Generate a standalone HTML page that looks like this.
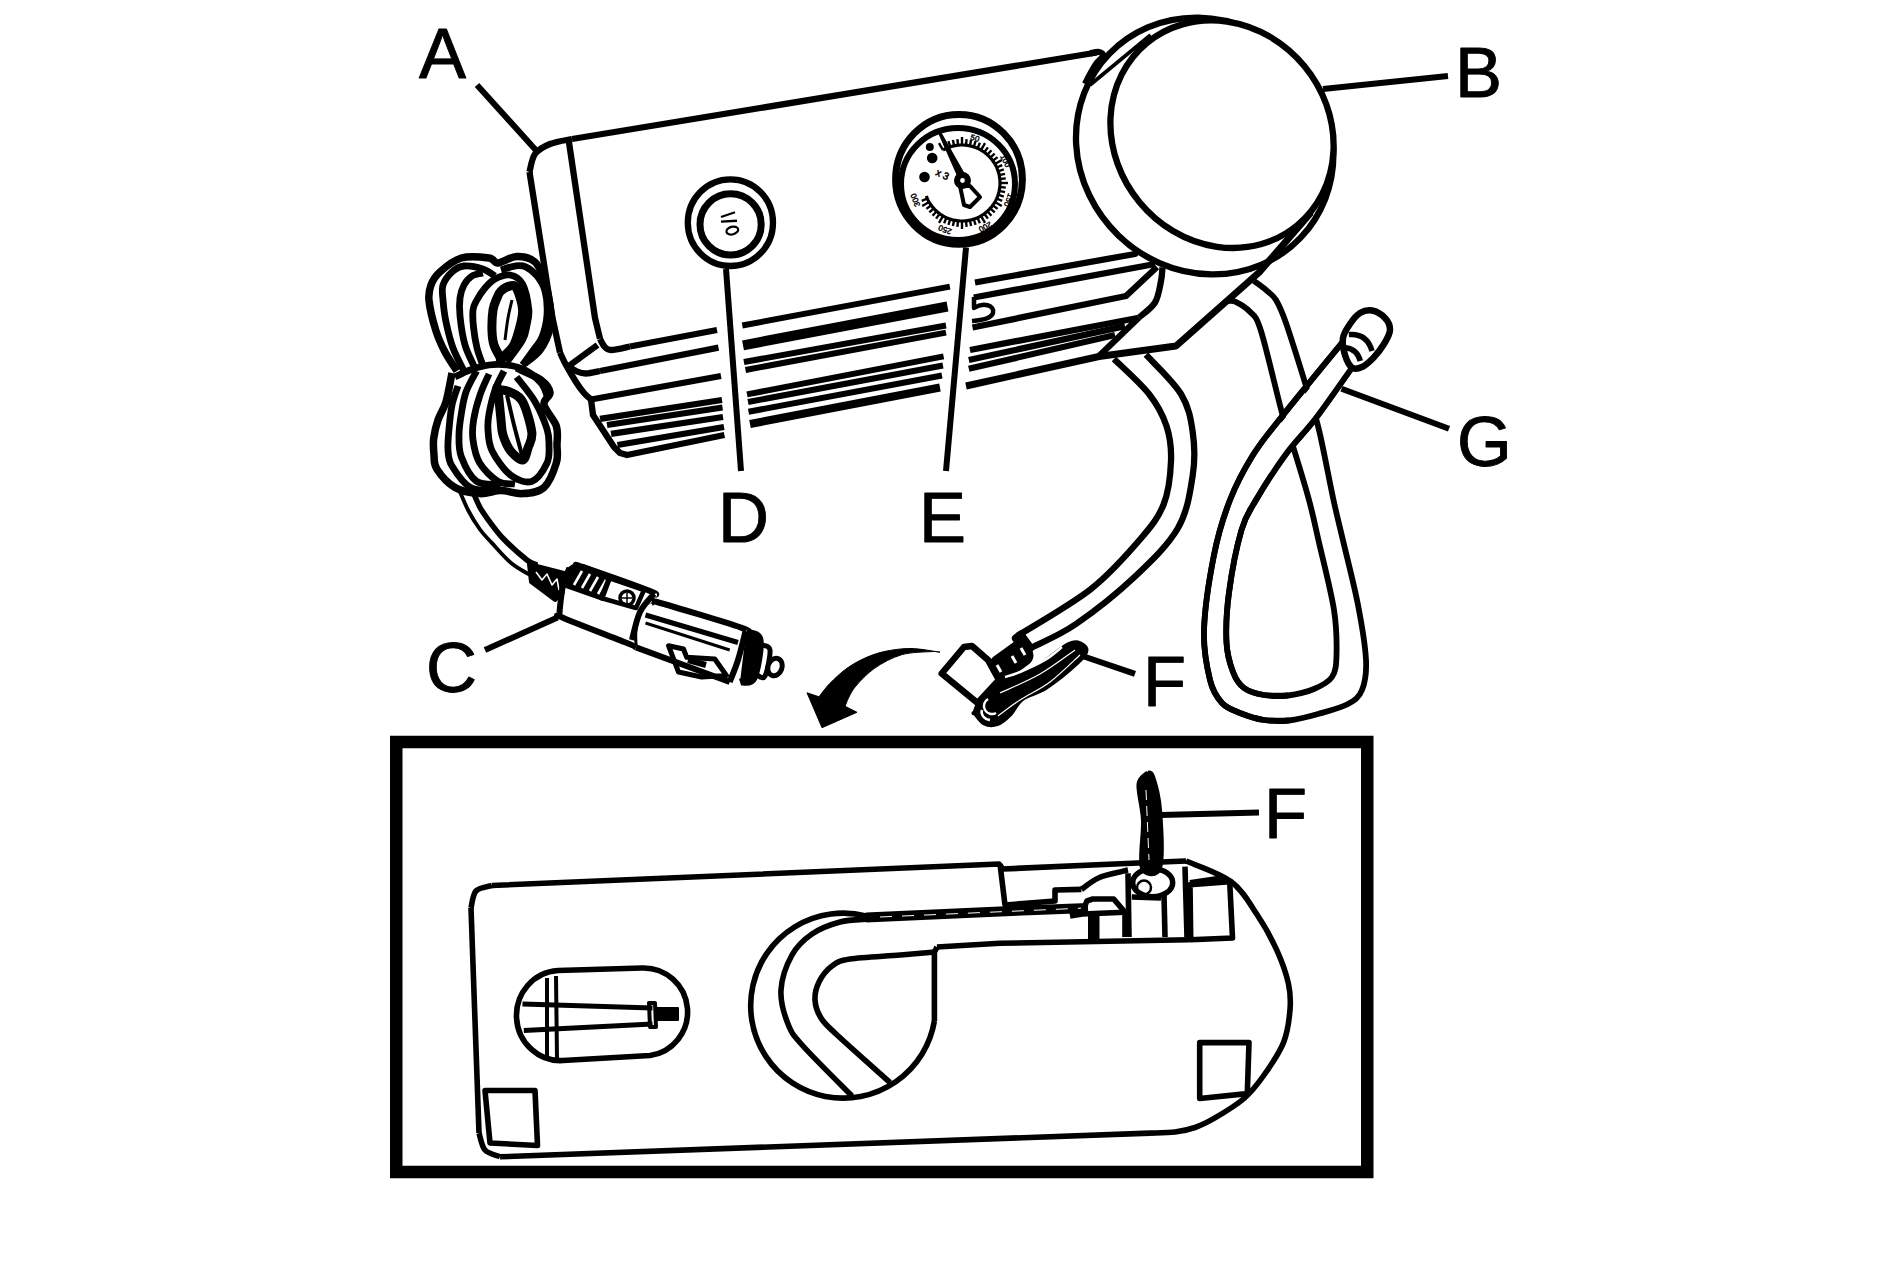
<!DOCTYPE html>
<html><head><meta charset="utf-8"><style>
html,body{margin:0;padding:0;background:#fff;width:1893px;height:1272px;overflow:hidden}
svg{display:block}
text{font-family:"Liberation Sans",sans-serif}
</style></head><body>
<svg width="1893" height="1272" viewBox="0 0 1893 1272" stroke="#000" stroke-linecap="butt" stroke-linejoin="round" fill="none">
<text x="419" y="77.5" font-size="70.5" stroke="#000" stroke-width="0.9" fill="#000">A</text>
<text x="1455" y="97" font-size="70.5" stroke="#000" stroke-width="0.9" fill="#000">B</text>
<text x="426" y="692" font-size="70.5" stroke="#000" stroke-width="0.9" fill="#000">C</text>
<text x="718" y="542" font-size="70.5" stroke="#000" stroke-width="0.9" fill="#000">D</text>
<text x="919" y="542" font-size="70.5" stroke="#000" stroke-width="0.9" fill="#000">E</text>
<text x="1143" y="706" font-size="70.5" stroke="#000" stroke-width="0.9" fill="#000">F</text>
<text x="1457" y="466" font-size="70.5" stroke="#000" stroke-width="0.9" fill="#000">G</text>
<text x="1264" y="838" font-size="70.5" stroke="#000" stroke-width="0.9" fill="#000">F</text>
<path d="M477,85 L538,152.5" stroke-width="6" fill="none" stroke-linecap="butt"/>
<path d="M1323,89 L1448,76" stroke-width="6" fill="none" stroke-linecap="butt"/>
<path d="M485,650 L557.5,617.5" stroke-width="6" fill="none" stroke-linecap="butt"/>
<path d="M726,269 L741,471" stroke-width="6" fill="none" stroke-linecap="butt"/>
<path d="M966,247.5 L946,471" stroke-width="6" fill="none" stroke-linecap="butt"/>
<path d="M1082.5,656 L1135,673.8" stroke-width="6" fill="none" stroke-linecap="butt"/>
<path d="M1341.5,388.8 L1449,428.8" stroke-width="6" fill="none" stroke-linecap="butt"/>
<path d="M1161,815 L1259,812.6" stroke-width="6" fill="none" stroke-linecap="butt"/>
<path d="M1097,52.5 L572,139" stroke-width="6.3" fill="none"/>
<path d="M572,139 C568.3,139.8 556.2,141.5 550,144 C543.8,146.5 538.4,149.3 535,154 C531.6,158.7 530.4,169 529.5,172" stroke-width="6.3" fill="none"/>
<path d="M529.5,172 L552.5,318 560,352.5" stroke-width="6.3" fill="none"/>
<path d="M560,352.5 C561,354.6 563.3,360.1 566,365 C568.7,369.9 573,377.3 576,382 C579,386.7 581.5,390.1 584,393 C586.5,395.9 589.8,398.4 591,399.5" stroke-width="6.3" fill="none"/>
<path d="M591,399.5 L593,415 614,447 620,453 627,455 724.4,435" stroke-width="6.3" fill="none"/>
<path d="M568.8,141 L595,318 600,338.8" stroke-width="6.3" fill="none"/>
<path d="M600,338.8 C600.7,340 602.2,344.1 604,346 C605.8,347.9 606.7,349.9 611,350 C615.3,350.1 626.8,347.1 630,346.5" stroke-width="6.3" fill="none"/>
<path d="M630,346.5 L717,330" stroke-width="6.3" fill="none"/>
<path d="M597.5,345 L568.8,366" stroke-width="6.3" fill="none"/>
<path d="M568.8,366 C570,366.8 573.1,369.8 576,371 C578.9,372.2 582,373.5 586,373.5 C590,373.5 597.7,371.4 600,371" stroke-width="6.3" fill="none"/>
<path d="M600,371 L718.5,347.7" stroke-width="6.3" fill="none"/>
<path d="M591,399.5 L721,376" stroke-width="6.3" fill="none"/>
<path d="M600,418.8 L722,400" stroke-width="6.3" fill="none"/>
<path d="M607,425 L722.5,407.5" stroke-width="6.3" fill="none"/>
<path d="M611,433.8 L723,417" stroke-width="6.3" fill="none"/>
<path d="M617.5,445 L724,427" stroke-width="6.3" fill="none"/>
<path d="M742.3,325.5 L949.9,286.6" stroke-width="6" fill="none"/>
<path d="M743,345.3 L947.5,306.5" stroke-width="10" fill="none"/>
<path d="M743.9,362 L946,325.5" stroke-width="6" fill="none"/>
<path d="M745.5,370 L946,332.6" stroke-width="6" fill="none"/>
<path d="M747,394.4 L943.6,356.4" stroke-width="6" fill="none"/>
<path d="M748,402 L943,365.5" stroke-width="6" fill="none"/>
<path d="M748.5,411.8 L942,375.5" stroke-width="6" fill="none"/>
<path d="M750,424 L940,387.5" stroke-width="8" fill="none"/>
<path d="M975,282.5 L1135,254 1139,250" stroke-width="6.3" fill="none"/>
<path d="M973.8,297.5 L1155,264" stroke-width="6.3" fill="none"/>
<path d="M972.5,327.5 L1126,296 1157,267" stroke-width="6.3" fill="none"/>
<path d="M970,350 L1137.5,318" stroke-width="6.3" fill="none"/>
<path d="M968.8,360 L1125,326.2" stroke-width="6.3" fill="none"/>
<path d="M968.8,368.8 L1115,335" stroke-width="6.3" fill="none"/>
<path d="M1162.5,267.5 C1162.2,269.8 1162.2,275.2 1161,281 C1159.8,286.8 1158.7,296.4 1155,302.5 C1151.3,308.6 1141.7,315 1139,317.5" stroke-width="6.3" fill="none"/>
<path d="M1139,317.5 L1099,356" stroke-width="6.3" fill="none"/>
<path d="M974,297 L974,308 C983,302 995,305 993,313 C991,319 981,320 972,321" stroke-width="4.5"/>
<ellipse cx="1204.7" cy="146" rx="132.7" ry="124.3" stroke-width="6.3" fill="#fff" transform="rotate(44 1204.7 146)"/>
<path d="M966,386 L1099,356.5 1176,346 1259,272.5 1311,212.5" stroke-width="7" fill="none"/>
<path d="M1090,53.5 C1091.5,53.2 1096.8,51.6 1099,52 C1101.2,52.4 1103.5,54 1103,56 C1102.5,58 1098.3,60.7 1096,64 C1093.7,67.3 1090.8,72.7 1089,76 C1087.2,79.3 1085.7,82.7 1085,84" stroke-width="6.3" fill="none"/>
<path d="M1150.6,34.9 L1090,85" stroke-width="3.8" fill="none"/>
<ellipse cx="1222" cy="134.2" rx="118.2" ry="106.9" stroke-width="6.3" fill="#fff" transform="rotate(50.5 1222 134.2)"/>
<ellipse cx="959" cy="179.3" rx="63.4" ry="64.9" stroke-width="7" fill="#fff"/>
<ellipse cx="958" cy="184" rx="57" ry="56" stroke-width="6" fill="none"/>
<path d="M943.0,150.1 L944.2,149.4 L945.3,148.8 L946.5,148.3 L947.8,147.8 L949.0,147.3 L950.3,146.9 L951.5,146.5 L952.8,146.1 L954.1,145.8 L955.4,145.6 L956.7,145.4 L958.0,145.2 L959.3,145.1 L960.7,145.0 L962.0,145.0 L963.3,145.0 L964.7,145.1 L966.0,145.2 L967.3,145.4 L968.6,145.6 L969.9,145.8 L971.2,146.1 L972.5,146.5 L973.7,146.9 L975.0,147.3 L976.2,147.8 L977.5,148.3 L978.7,148.8 L979.8,149.4 L981.0,150.1 L982.1,150.8 L983.2,151.5 L984.3,152.3 L985.4,153.1 L986.4,153.9 L987.4,154.8 L988.4,155.7 L989.3,156.6 L990.2,157.6 L991.1,158.6 L991.9,159.6 L992.7,160.7 L993.5,161.8 L994.2,162.9 L994.9,164.0 L995.6,165.2 L996.2,166.3 L996.7,167.5 L997.2,168.8 L997.7,170.0 L998.1,171.3 L998.5,172.5 L998.9,173.8 L999.2,175.1 L999.4,176.4 L999.6,177.7 L999.8,179.0 L999.9,180.3 L1000.0,181.7 L1000.0,183.0 L1000.0,184.3 L999.9,185.7 L999.8,187.0 L999.6,188.3 L999.4,189.6 L999.2,190.9 L998.9,192.2 L998.5,193.5 L998.1,194.7 L997.7,196.0 L997.2,197.2 L996.7,198.5 L996.2,199.7 L995.6,200.8 L994.9,202.0 L994.2,203.1 L993.5,204.2 L992.7,205.3 L991.9,206.4 L991.1,207.4 L990.2,208.4 L989.3,209.4 L988.4,210.3 L987.4,211.2 L986.4,212.1 L985.4,212.9 L984.3,213.7 L983.2,214.5 L982.1,215.2 L981.0,215.9 L979.8,216.6 L978.7,217.2 L977.5,217.7 L976.2,218.2 L975.0,218.7 L973.7,219.1 L972.5,219.5 L971.2,219.9 L969.9,220.2 L968.6,220.4 L967.3,220.6 L966.0,220.8 L964.7,220.9 L963.3,221.0 L962.0,221.0 L960.7,221.0 L959.3,220.9 L958.0,220.8 L956.7,220.6 L955.4,220.4 L954.1,220.2 L952.8,219.9 L951.5,219.5 L950.3,219.1 L949.0,218.7 L947.8,218.2 L946.5,217.7 L945.3,217.2 L944.2,216.6 L943.0,215.9 L941.9,215.2 L940.8,214.5 L939.7,213.7 L938.6,212.9 L937.6,212.1 L936.6,211.2 L935.6,210.3 L934.7,209.4 L933.8,208.4 L932.9,207.4 L932.1,206.4 L931.3,205.3 L930.5,204.2 L929.8,203.1 L929.1,202.0 L928.4,200.8 L927.8,199.7 L927.3,198.5 L926.8,197.2 L926.3,196.0" stroke-width="3.2"/>
<path d="M943,150.1 L939,143.2" stroke-width="2.4" fill="none" stroke-linecap="butt"/>
<path d="M946.5,148.3 L944.1,142.8" stroke-width="2.4" fill="none" stroke-linecap="butt"/>
<path d="M950.3,146.9 L948.4,141.2" stroke-width="2.4" fill="none" stroke-linecap="butt"/>
<path d="M954.1,145.8 L952.9,140" stroke-width="2.4" fill="none" stroke-linecap="butt"/>
<path d="M958,145.2 L957.4,139.2" stroke-width="2.4" fill="none" stroke-linecap="butt"/>
<path d="M962,145 L962,137" stroke-width="2.4" fill="none" stroke-linecap="butt"/>
<path d="M966,145.2 L966.6,139.2" stroke-width="2.4" fill="none" stroke-linecap="butt"/>
<path d="M969.9,145.8 L971.1,140" stroke-width="2.4" fill="none" stroke-linecap="butt"/>
<path d="M973.7,146.9 L975.6,141.2" stroke-width="2.4" fill="none" stroke-linecap="butt"/>
<path d="M977.5,148.3 L979.9,142.8" stroke-width="2.4" fill="none" stroke-linecap="butt"/>
<path d="M981,150.1 L985,143.2" stroke-width="2.4" fill="none" stroke-linecap="butt"/>
<path d="M984.3,152.3 L987.9,147.4" stroke-width="2.4" fill="none" stroke-linecap="butt"/>
<path d="M987.4,154.8 L991.4,150.3" stroke-width="2.4" fill="none" stroke-linecap="butt"/>
<path d="M990.2,157.6 L994.7,153.6" stroke-width="2.4" fill="none" stroke-linecap="butt"/>
<path d="M992.7,160.7 L997.6,157.1" stroke-width="2.4" fill="none" stroke-linecap="butt"/>
<path d="M994.9,164 L1001.8,160" stroke-width="2.4" fill="none" stroke-linecap="butt"/>
<path d="M996.7,167.5 L1002.2,165.1" stroke-width="2.4" fill="none" stroke-linecap="butt"/>
<path d="M998.1,171.3 L1003.8,169.4" stroke-width="2.4" fill="none" stroke-linecap="butt"/>
<path d="M999.2,175.1 L1005,173.9" stroke-width="2.4" fill="none" stroke-linecap="butt"/>
<path d="M999.8,179 L1005.8,178.4" stroke-width="2.4" fill="none" stroke-linecap="butt"/>
<path d="M1000,183 L1008,183" stroke-width="2.4" fill="none" stroke-linecap="butt"/>
<path d="M999.8,187 L1005.8,187.6" stroke-width="2.4" fill="none" stroke-linecap="butt"/>
<path d="M999.2,190.9 L1005,192.1" stroke-width="2.4" fill="none" stroke-linecap="butt"/>
<path d="M998.1,194.7 L1003.8,196.6" stroke-width="2.4" fill="none" stroke-linecap="butt"/>
<path d="M996.7,198.5 L1002.2,200.9" stroke-width="2.4" fill="none" stroke-linecap="butt"/>
<path d="M994.9,202 L1001.8,206" stroke-width="2.4" fill="none" stroke-linecap="butt"/>
<path d="M992.7,205.3 L997.6,208.9" stroke-width="2.4" fill="none" stroke-linecap="butt"/>
<path d="M990.2,208.4 L994.7,212.4" stroke-width="2.4" fill="none" stroke-linecap="butt"/>
<path d="M987.4,211.2 L991.4,215.7" stroke-width="2.4" fill="none" stroke-linecap="butt"/>
<path d="M984.3,213.7 L987.9,218.6" stroke-width="2.4" fill="none" stroke-linecap="butt"/>
<path d="M981,215.9 L985,222.8" stroke-width="2.4" fill="none" stroke-linecap="butt"/>
<path d="M977.5,217.7 L979.9,223.2" stroke-width="2.4" fill="none" stroke-linecap="butt"/>
<path d="M973.7,219.1 L975.6,224.8" stroke-width="2.4" fill="none" stroke-linecap="butt"/>
<path d="M969.9,220.2 L971.1,226" stroke-width="2.4" fill="none" stroke-linecap="butt"/>
<path d="M966,220.8 L966.6,226.8" stroke-width="2.4" fill="none" stroke-linecap="butt"/>
<path d="M962,221 L962,229" stroke-width="2.4" fill="none" stroke-linecap="butt"/>
<path d="M958,220.8 L957.4,226.8" stroke-width="2.4" fill="none" stroke-linecap="butt"/>
<path d="M954.1,220.2 L952.9,226" stroke-width="2.4" fill="none" stroke-linecap="butt"/>
<path d="M950.3,219.1 L948.4,224.8" stroke-width="2.4" fill="none" stroke-linecap="butt"/>
<path d="M946.5,217.7 L944.1,223.2" stroke-width="2.4" fill="none" stroke-linecap="butt"/>
<path d="M943,215.9 L939,222.8" stroke-width="2.4" fill="none" stroke-linecap="butt"/>
<path d="M939.7,213.7 L936.1,218.6" stroke-width="2.4" fill="none" stroke-linecap="butt"/>
<path d="M936.6,211.2 L932.6,215.7" stroke-width="2.4" fill="none" stroke-linecap="butt"/>
<path d="M933.8,208.4 L929.3,212.4" stroke-width="2.4" fill="none" stroke-linecap="butt"/>
<path d="M931.3,205.3 L926.4,208.9" stroke-width="2.4" fill="none" stroke-linecap="butt"/>
<path d="M929.1,202 L922.2,206" stroke-width="2.4" fill="none" stroke-linecap="butt"/>
<path d="M927.3,198.5 L921.8,200.9" stroke-width="2.4" fill="none" stroke-linecap="butt"/>
<text x="974.7" y="140.8" font-size="8" stroke="#000" stroke-width="0.4" fill="#000" text-anchor="middle" transform="rotate(376 974.7 138.8)">50</text>
<text x="1004.8" y="163.2" font-size="8" stroke="#000" stroke-width="0.4" fill="#000" text-anchor="middle" transform="rotate(423 1004.8 161.2)">100</text>
<text x="1008.0" y="201.8" font-size="8" stroke="#000" stroke-width="0.4" fill="#000" text-anchor="middle" transform="rotate(110 1008.0 199.8)">150</text>
<text x="985.0" y="228.3" font-size="8" stroke="#000" stroke-width="0.4" fill="#000" text-anchor="middle" transform="rotate(152 985.0 226.3)">200</text>
<text x="945.2" y="231.0" font-size="8" stroke="#000" stroke-width="0.4" fill="#000" text-anchor="middle" transform="rotate(200 945.2 229.0)">250</text>
<text x="916.0" y="201.8" font-size="8" stroke="#000" stroke-width="0.4" fill="#000" text-anchor="middle" transform="rotate(250 916.0 199.8)">300</text>
<path d="M938.5,132.5 L940.5,132 L966,177 L959.5,180Z" stroke-width="1.2" fill="#000"/>
<path d="M960,186 L964,205 970,207 980,197 970,186Z" stroke-width="4" fill="#fff"/>
<ellipse cx="962.5" cy="180.5" rx="8.5" ry="8.5" stroke-width="0" fill="#000"/>
<ellipse cx="962.5" cy="180.5" rx="3" ry="3" stroke-width="1.2" fill="#fff"/>
<ellipse cx="929.8" cy="146.9" rx="4" ry="4" stroke-width="0" fill="#000"/>
<ellipse cx="932.2" cy="158" rx="5.3" ry="5.3" stroke-width="0" fill="#000"/>
<ellipse cx="924.5" cy="177" rx="5.3" ry="5.3" stroke-width="0" fill="#000"/>
<text x="936" y="178" font-size="10" stroke="#000" stroke-width="0.5" fill="#000" transform="rotate(25 943 174)">x 3</text>
<ellipse cx="730.4" cy="222.7" rx="42.6" ry="43.3" stroke-width="6.3" fill="#fff"/>
<ellipse cx="730.6" cy="224.4" rx="30.6" ry="30.6" stroke-width="7" fill="none"/>
<path d="M721,217 L735,212.2" stroke-width="2.2" fill="none"/>
<path d="M721,221.6 L737,220.8" stroke-width="2.4" fill="none"/>
<ellipse cx="732.3" cy="230.6" rx="6" ry="3.8" stroke-width="2.2" fill="none" transform="rotate(-15 732.3 230.6)"/>
<path d="M1114,359 C1119.8,364.8 1140.2,382.8 1149,394 C1157.8,405.2 1162.8,414.8 1166.5,426 C1170.2,437.2 1171.5,447.9 1171,461 C1170.5,474.1 1168.8,491.4 1163.6,504.5 C1158.4,517.6 1152.1,525.4 1140,539.5 C1127.9,553.6 1111.3,573 1091,589 C1070.7,605 1030.2,627.8 1018,635.5" stroke-width="6.3" fill="none"/>
<path d="M1146,354.7 C1151.8,361.2 1173.2,381.1 1181,394 C1188.8,406.9 1190.8,418.4 1192.7,432 C1194.7,445.6 1195.2,459.5 1192.7,475.5 C1190.2,491.5 1187.7,511.1 1178,528 C1168.3,544.9 1151.5,561 1134.5,577 C1117.5,593 1093,612.3 1076,624 C1059,635.7 1039.9,643.2 1032.7,647" stroke-width="6.3" fill="none"/>
<path d="M1228,301 C1229.3,301.2 1232.4,300.2 1236,302 C1239.6,303.8 1245.5,306.7 1249.7,311.5 C1253.9,316.3 1255.5,313.7 1261,331 C1266.5,348.3 1277.4,396.5 1282.7,415.5 C1288,434.5 1288.2,431.1 1292.6,445.2 C1297,459.3 1304.6,483.8 1309,500 C1313.4,516.2 1314.8,524.2 1319,542.5 C1323.2,560.8 1331.1,591.2 1334,610 C1336.9,628.8 1336.8,643.8 1336.5,655 C1336.2,666.2 1335.8,671.3 1332,677 C1328.2,682.7 1321.3,685.9 1314,689 C1306.7,692.1 1296.3,694.5 1288,695.5 C1279.7,696.5 1271.3,696.2 1264,695 C1256.7,693.8 1249.2,691.8 1244,688 C1238.8,684.2 1235.9,679.6 1233,672 C1230.1,664.4 1227.2,655.8 1226.5,642.5 C1225.8,629.2 1226.5,611.2 1229,592.5 C1231.5,573.8 1237,545.4 1241.5,530 C1246,514.6 1248.6,512.7 1256,500 C1263.4,487.3 1276,467.7 1286,454 C1296,440.3 1305,432.4 1316,418 C1327,403.6 1346,376 1352,367.6" stroke-width="5.8" fill="none"/>
<path d="M1254,281 C1256,282.5 1262.3,286.8 1266,290 C1269.7,293.2 1272.7,294.5 1276,300 C1279.3,305.5 1281,308.7 1286,323 C1291,337.3 1300.5,368 1306,385.8 C1311.5,403.6 1314.4,411 1319,430 C1323.6,449 1329.4,481.2 1333.5,500 C1337.6,518.8 1339.4,525 1343.5,542.5 C1347.6,560 1354.2,585.4 1358,605 C1361.8,624.6 1365.3,645.8 1366,660 C1366.7,674.2 1365,682.7 1362,690 C1359,697.3 1355.3,700 1348,704 C1340.7,708 1327.8,711.2 1318,714 C1308.2,716.8 1298,719.5 1289,720.5 C1280,721.5 1272.2,721.2 1264,720 C1255.8,718.8 1247,715.8 1240,713 C1233,710.2 1227,708.5 1222,703 C1217,697.5 1213,692.2 1210,680 C1207,667.8 1203.3,650.8 1204,630 C1204.7,609.2 1209.7,576.7 1214,555 C1218.3,533.3 1223.5,516.7 1230,500 C1236.5,483.3 1244.2,469.1 1253,455 C1261.8,440.9 1267.9,434.2 1282.7,415.5 C1297.5,396.8 1332.1,354.9 1342,342.8" stroke-width="5.8" fill="none"/>
<path d="M1349,357 C1341,366.8 1313.7,400 1301,415.5 C1288.3,431 1279.3,441.2 1272.8,450 C1266.3,458.8 1263.8,465 1262,468" stroke-width="21" fill="none" stroke="#fff"/>
<path d="M1289,720.5 C1284.8,720.4 1272.2,721.2 1264,720 C1255.8,718.8 1247,715.8 1240,713 C1233,710.2 1227,708.5 1222,703 C1217,697.5 1213,692.2 1210,680 C1207,667.8 1203.3,650.8 1204,630 C1204.7,609.2 1209.7,576.7 1214,555 C1218.3,533.3 1223.5,516.7 1230,500 C1236.5,483.3 1244.2,469.1 1253,455 C1261.8,440.9 1267.9,434.2 1282.7,415.5 C1297.5,396.8 1332.1,354.9 1342,342.8" stroke-width="5.8" fill="none"/>
<path d="M1288,695.5 C1284,695.4 1271.3,696.2 1264,695 C1256.7,693.8 1249.2,691.8 1244,688 C1238.8,684.2 1235.9,679.6 1233,672 C1230.1,664.4 1227.2,655.8 1226.5,642.5 C1225.8,629.2 1226.5,611.2 1229,592.5 C1231.5,573.8 1237,545.4 1241.5,530 C1246,514.6 1248.6,512.7 1256,500 C1263.4,487.3 1276,467.7 1286,454 C1296,440.3 1305,432.4 1316,418 C1327,403.6 1346,376 1352,367.6" stroke-width="5.8" fill="none"/>
<path d="M1343,338 C1343.8,332.8 1347.2,328.2 1350,324 C1352.8,319.8 1356.3,315.2 1360,313 C1363.7,310.8 1367.8,309.7 1372,310.5 C1376.2,311.3 1382,314.8 1385,318 C1388,321.2 1390.2,325.7 1390,330 C1389.8,334.3 1386.8,339.4 1384,344 C1381.2,348.6 1377.2,353.9 1373.5,357.7 C1369.8,361.5 1365.6,365.4 1362,367 C1358.4,368.6 1354.8,369.6 1352,367.6 C1349.2,365.6 1346.5,359.9 1345,355 C1343.5,350.1 1342.2,343.2 1343,338Z" stroke-width="6.5" fill="#fff"/>
<path d="M1348.8,334.6 Q1367,333 1372,351" stroke-width="5.5"/>
<path d="M1345.5,347.8 Q1357,349 1360.3,361" stroke-width="5.5"/>
<path d="M457,371 C455,367.8 448.5,358.7 445,352 C441.5,345.3 438.7,339.6 436,331 C433.3,322.4 429.8,308.2 429,300.5 C428.2,292.8 429.2,289.8 431,285 C432.8,280.2 434.8,276.5 439.9,272 C444.9,267.5 453.1,260.3 461.3,258 C469.5,255.7 482.9,257.2 489,258 C495.1,258.8 493.4,263.2 498,263 C502.6,262.8 510.3,256.7 516.5,256.5 C522.7,256.3 530.4,258.1 535,262 C539.6,265.9 541.5,272.8 544,280 C546.5,287.2 549,297 550,305 C551,313 551.7,320.5 550,328 C548.3,335.5 544.6,343.8 540,350 C535.4,356.2 525.5,362.5 522.6,365" stroke-width="7.5" fill="none"/>
<path d="M464,371 C462.2,367.2 456,356.2 453,348 C450,339.8 447.7,330 446,322 C444.3,314 443.5,306.2 443,300 C442.5,293.8 441.5,289.7 443,285 C444.5,280.3 448.5,275.2 452,272 C455.5,268.8 458.9,266.5 464,266 C469.1,265.5 477.6,267.3 482.8,269 C488,270.7 493,274.8 495,276" stroke-width="6.8" fill="none"/>
<path d="M475,368 C473.3,364.2 467.5,353.7 465,345 C462.5,336.3 460.8,323.8 460,316 C459.2,308.2 459.3,303.2 460,298 C460.7,292.8 462,288.7 464,285 C466,281.3 468.9,278 472,276 C475.1,274 481,273.5 482.8,273" stroke-width="6.8" fill="none"/>
<path d="M482.8,365 C481.8,362.2 478.5,354.2 477,348 C475.5,341.8 474.3,334.3 473.6,328 C472.9,321.7 472.5,314.6 473,310 C473.5,305.4 474.6,304.2 476.6,300.5 C478.6,296.8 481.9,291.6 485,288 C488.1,284.4 490.8,281.2 495,279 C499.2,276.8 505.4,274.2 510,275 C514.6,275.8 519.5,278.2 522.6,284 C525.7,289.8 528.1,302.9 528.8,309.7 C529.5,316.5 528,319.9 527,325 C526,330.1 525.9,333.8 522.6,340 C519.3,346.2 509.6,358.3 507,362" stroke-width="6.8" fill="none"/>
<path d="M501,358.8 C499.8,356.5 495.5,349.6 494,345 C492.5,340.4 492.2,336.8 492,331 C491.8,325.2 492.2,315.5 493,310 C493.8,304.5 495.7,301.2 497,298 C498.3,294.8 498.8,293 501,291 C503.2,289 507.4,286.5 510,286 C512.6,285.5 514.4,284.1 516.5,288 C518.6,291.9 522.2,302.7 522.6,309.7 C523,316.7 520.6,323.9 519,330 C517.4,336.1 516,341.7 513,346.5 C510,351.3 503,356.8 501,358.8 C499,360.9 502.2,361.1 501,358.8Z" stroke-width="9" fill="none"/>
<path d="M505,340 C505.5,336.3 506.8,324.7 508,318 C509.2,311.3 511.3,303 512,300" stroke-width="3" fill="none"/>
<path d="M501,270 C503.3,269.3 510.9,266.5 515,266 C519.1,265.5 522,265.1 525.7,266.8 C529.4,268.5 533.8,272 537,276 C540.2,280 543.3,284.5 545,291 C546.7,297.5 547.5,307.3 547,315 C546.5,322.7 544.5,330.8 542,337 C539.5,343.2 535.2,347.3 532,352 C528.8,356.7 524.2,362.8 522.6,365" stroke-width="6.8" fill="none"/>
<path d="M452,373 C451,377.8 448.3,393.9 446,401.7 C443.7,409.5 440.1,413.9 438,420 C435.9,426.1 434.4,432.7 433.7,438.5 C433,444.3 433.5,449.9 434,455 C434.5,460.1 433.3,463.6 436.8,469 C440.3,474.4 447.9,483.4 455,487.5 C462.1,491.6 472,493.1 479.7,493.6 C487.4,494.1 493.9,490.6 501,490.6 C508.1,490.6 515.4,494.1 522.6,493.6 C529.8,493.1 538.4,492.6 544,487.5 C549.6,482.4 554.1,470.1 556.3,463 C558.5,455.9 557,451.2 557,445 C557,438.8 558.5,432.7 556.3,426 C554.1,419.3 545,410.3 544,404.7 C543,399.1 550.5,396.6 550,392.5 C549.5,388.4 546.6,384.1 541,380 C535.4,375.9 520.6,370 516.5,368" stroke-width="7.5" fill="none"/>
<path d="M458,386 C457,389.2 453.5,397.8 452,405 C450.5,412.2 449.7,421.5 449,429 C448.3,436.5 447.5,443.8 448,450 C448.5,456.2 448.2,459.8 452,466 C455.8,472.2 462.8,483.4 470.5,487.5 C478.2,491.6 493.4,490.1 498,490.6" stroke-width="6.8" fill="none"/>
<path d="M476.6,371 C474.8,374.5 468.6,384.8 466,392 C463.4,399.2 462.5,406.8 461.3,414 C460.1,421.2 459,427.9 459,435 C459,442.1 458.4,449.1 461.3,456.8 C464.2,464.5 470,476.8 476.6,481.4 C483.2,486 496.9,483.9 501,484.4" stroke-width="6.8" fill="none"/>
<path d="M489,374 C487.5,377.5 482.6,387.3 480,395 C477.4,402.7 474.8,412.5 473.6,420 C472.4,427.5 472,432.8 473,440 C474,447.2 475.5,456.1 479.7,463 C483.9,469.9 492.1,477.9 498,481.4 C503.9,484.9 512.2,483.6 515,484" stroke-width="6.8" fill="none"/>
<path d="M504,371 C502.5,374.2 497.5,382.8 495,390 C492.5,397.2 490.2,407.3 489,414 C487.8,420.7 487.5,423.9 488,430 C488.5,436.1 488.3,443.2 492,450.7 C495.7,458.2 503.8,469.9 510.4,475 C517,480.1 525.7,483.4 531.8,481.4 C537.9,479.4 544.1,469.1 547,463 C549.9,456.9 549,450.7 549,445 C549,439.3 549.3,436.2 547,429 C544.7,421.8 540.1,410.4 535,401.7 C529.9,393 519.6,381.1 516.5,377" stroke-width="6.8" fill="none"/>
<path d="M498,389.4 C500,389.8 505.9,389.9 510,392 C514.1,394.1 519,395 522.6,401.7 C526.2,408.4 530.9,424.6 531.8,432.3 C532.7,440 529.5,443.4 528,448 C526.5,452.6 525.5,459.6 522.6,460 C519.7,460.4 513.7,454.9 510.4,450.7 C507.1,446.5 504.6,440.1 503,435 C501.4,429.9 501.8,427.6 501,420 C500.2,412.4 498.5,394.5 498,389.4 C497.5,384.3 496,389 498,389.4Z" stroke-width="9" fill="none"/>
<path d="M507,395 C508.2,400 511.5,415 514,425 C516.5,435 520.7,450 522,455" stroke-width="4" fill="none"/>
<path d="M455,377 C457.5,375.8 464.3,372 470,370 C475.7,368 482.8,365.8 489,365 C495.2,364.2 501,364.2 507,365 C513,365.8 519.3,367 525,370 C530.7,373 537.3,378.8 541,383 C544.7,387.2 546,393.4 547,395.5" stroke-width="6.8" fill="none"/>
<path d="M458,487 C459.7,490.8 464.3,502.9 468,510 C471.7,517.1 476,524 480,529.5 C484,535 486.6,537.3 491.8,542.9 C497,548.5 505,557.9 511.4,563.3 C517.8,568.6 526.9,573 530,575" stroke-width="3.8" fill="none"/>
<path d="M473,492 C474.2,494.6 477.5,502.9 480,507.5 C482.5,512 484,514 487.9,519.3 C491.8,524.5 497.1,532.2 503.6,539 C510.2,545.8 521.6,555.9 527.2,560.2 C532.8,564.5 535.4,564.2 537,565" stroke-width="5.5" fill="none"/>
<path d="M529,564 L564,573 563,592 555,600 531,582Z" stroke-width="4" fill="#000"/>
<path d="M536,572 L542,580 547,574 552,585 557,579 559,590" stroke-width="1.6" fill="none" stroke="#fff"/>
<path d="M569.5,570 C570.6,569.3 573.8,566.5 576,566 C578.2,565.5 570.7,562.8 583,567 C595.3,571.2 638.2,586.3 650,591 C661.8,595.7 653.3,594.3 654,595" stroke-width="6" fill="none"/>
<path d="M654,594 C651.7,597 643.7,604.3 640,612 C636.3,619.7 633.3,635.3 632,640" stroke-width="6" fill="none"/>
<path d="M563,583 C562.4,588 559.6,606.9 559.6,612.7 C559.6,618.5 552,612.7 563,617.7 C574,622.7 613.5,637.5 625.7,642.5 C637.9,647.5 634.3,646.6 636,647.4" stroke-width="6" fill="none"/>
<path d="M563,583 L569.5,568" stroke-width="6" fill="none"/>
<path d="M570,568 L583,565 612,576 603,600 566,587Z" stroke-width="2" fill="#000"/>
<path d="M574,585 L582,571" stroke-width="2.6" fill="none" stroke="#fff"/>
<path d="M582,588 L590,574" stroke-width="2.6" fill="none" stroke="#fff"/>
<path d="M590,591 L598,577" stroke-width="2.6" fill="none" stroke="#fff"/>
<path d="M598,594 L606,580" stroke-width="2.6" fill="none" stroke="#fff"/>
<path d="M609,578 L644,590 636,608 601,598Z" stroke-width="4.5" fill="none"/>
<ellipse cx="627" cy="598" rx="7" ry="7" stroke-width="3.5" fill="none"/>
<path d="M622,598 L632,598" stroke-width="1.5" fill="none"/>
<path d="M627,593 L627,603" stroke-width="1.5" fill="none"/>
<path d="M652,602.8 C652.8,602.7 642.2,597.9 657,602 C671.8,606.1 726.3,622.6 741,627.6 C755.7,632.6 744.7,631 745.4,631.7" stroke-width="6" fill="none"/>
<path d="M745.4,631.7 C744.2,636.4 740.6,651.6 738,660 C735.4,668.4 731.1,678.3 729.7,682" stroke-width="6" fill="none"/>
<path d="M636,647.4 L729.7,682" stroke-width="6" fill="none"/>
<path d="M645.5,615 L738,642.5" stroke-width="5" fill="none"/>
<path d="M645.5,623 L729.7,650" stroke-width="3" fill="none"/>
<path d="M650,597 C648.3,599.5 642.3,606.5 640,612 C637.7,617.5 636.7,624.5 636,630 C635.3,635.5 636,642.5 636,645" stroke-width="3" fill="none"/>
<path d="M668.6,645.8 L683.5,649 686.7,657.3 714.8,659 726.4,675.5 701.6,677 678.5,672Z" stroke-width="5" fill="none"/>
<path d="M688,660 L706,665" stroke-width="6" fill="none"/>
<path d="M746,632 C748.3,633.3 758.7,632.3 760,640 C761.3,647.7 757.3,671 754,678 C750.7,685 742.3,681.3 740,682" stroke-width="7" fill="#000"/>
<path d="M762,645 C763.3,645.8 769.5,644.8 770,650 C770.5,655.2 767.2,671.8 765,676 C762.8,680.2 758.3,675.2 757,675" stroke-width="5" fill="none"/>
<ellipse cx="775" cy="667" rx="7" ry="9" stroke-width="5" fill="#fff" transform="rotate(20 775 667)"/>
<path d="M1032.7,647 C1030.6,648.3 1025.5,652 1020,655 C1014.5,658 1003.3,663.3 1000,665" stroke-width="6.3" fill="none"/>
<path d="M941.7,673.5 L964,647 972,646 988,660 999,680 977.6,703Z" stroke-width="6.5" fill="#fff"/>
<g transform="translate(1011 660) rotate(-36)"><rect x="-23" y="-13" width="46" height="27" rx="11" fill="#000" stroke="none"/></g>
<g transform="translate(1023 643) rotate(-36)"><rect x="-7" y="-12" width="14" height="24" rx="4" fill="#000" stroke="none"/></g>
<path d="M997,665 L1001,672" stroke-width="3" fill="none" stroke="#fff"/>
<path d="M1012,656 L1016,663" stroke-width="3" fill="none" stroke="#fff"/>
<path d="M1021,648 L1025,655" stroke-width="3" fill="none" stroke="#fff"/>
<path d="M974,713 C975,710.8 974.9,705.7 980,700 C985.1,694.3 994.9,684.8 1004.5,679 C1014.1,673.2 1027.8,670.9 1037.8,665.4 C1047.8,659.9 1058,649.6 1064.7,645.7 C1071.4,641.8 1074.3,641.3 1078,642 C1081.7,642.7 1087,646.5 1087,650 C1087,653.5 1084.7,656.7 1078,663 C1071.3,669.3 1056,681.8 1046.7,687.9 C1037.5,694 1028.5,695 1022.5,699.5 C1016.5,704 1015,710.6 1010.8,714.8 C1006.6,719 1001.9,723.2 997.4,724.7 C992.9,726.2 987.9,726 984,724 C980.1,722 975.7,714.8 974,713 C972.3,711.2 973,715.2 974,713Z" stroke-width="3" fill="#000"/>
<path d="M1000,693 C1006.7,689.8 1027.5,681.2 1040,674 C1052.5,666.8 1069.2,654 1075,650" stroke-width="1.2" fill="none" stroke="#fff"/>
<path d="M1005,677 C1007.5,676.2 1013.3,674.8 1020,672 C1026.7,669.2 1038,664.2 1045,660 C1052,655.8 1059.2,649.2 1062,647" stroke-width="2.5" fill="none" stroke="#fff"/>
<path d="M998,716 C1001.7,713.3 1011.3,705.7 1020,700 C1028.7,694.3 1040,689.5 1050,682 C1060,674.5 1075,659.5 1080,655" stroke-width="1.2" fill="none" stroke="#fff"/>
<path d="M988,699 A8,8 0 0 0 996,713" stroke="#fff" stroke-width="2.5"/>
<path d="M982,710 A10,8 0 0 0 990,720" stroke="#fff" stroke-width="2.5"/>
<path d="M940,652.2 C935.2,651.6 920.3,648.6 911,648.5 C901.7,648.4 891.9,649.9 884,651.6 C876.1,653.3 869.7,655.9 863.4,658.8 C857.1,661.7 851.6,664.9 846,669 C840.4,673.1 834.5,678.7 830,683.3 C825.5,687.9 820.8,694.5 819,696.8 L807,692.8 L822,727.7 L857,712.3 L845,706.3 L847.5,700 C848.8,697.8 851,691.8 855.5,686.5 C860,681.2 866.9,673.6 874.5,668.3 C882.1,663 891.9,657.6 901.4,654.8 C910.9,652 925.1,652 931.5,651.6 C937.9,651.2 938.6,652.1 940,652.2Z" stroke-width="1" fill="#000"/>
<rect x="396.25" y="742" width="971" height="430" stroke-width="12.5" fill="none" stroke-linejoin="miter"/>
<path d="M471,908 C471.8,905.2 472.5,894.8 476,891 C479.5,887.2 489.3,886.4 492,885.5" stroke-width="5.6" fill="none"/>
<path d="M492,885.5 L999,864 1003,869 1131.8,863.3 1186,861" stroke-width="5.6" fill="none"/>
<path d="M1186,861 C1193.5,864.4 1219.2,872.7 1231,881.6 C1242.8,890.5 1249.3,903 1257,914.5 C1264.7,926 1271.8,939.1 1277,950.6 C1282.2,962.1 1286.2,973.6 1288.4,983.5 C1290.6,993.4 1290.8,999.9 1290,1009.8 C1289.2,1019.6 1287.9,1031.6 1283.5,1042.6 C1279.1,1053.5 1270.3,1066.2 1263.7,1075.5 C1257.1,1084.8 1252.2,1091.4 1244,1098.5 C1235.8,1105.6 1222.7,1113.4 1214.5,1118.2 C1206.3,1123 1201.6,1125.2 1195,1127.5 C1188.4,1129.8 1182.5,1131.1 1175,1132 C1167.5,1132.9 1154.2,1132.9 1150,1133.1" stroke-width="5.6" fill="none"/>
<path d="M1150,1133.1 L500,1156.8" stroke-width="5.6" fill="none"/>
<path d="M500,1156.8 C497.5,1155.6 488.5,1154 485,1150 C481.5,1146 480,1135.8 479,1133" stroke-width="5.6" fill="none"/>
<path d="M479,1133 L471,908" stroke-width="5.6" fill="none"/>
<path d="M1000,864 L1005,905 1055,901 1055,890 1081.4,889.4" stroke-width="5.6" fill="none"/>
<path d="M1081.4,889.4 C1084.2,887.5 1091.7,881 1098.5,878 C1105.3,875 1117.4,872.7 1122.3,871.4 C1127.2,870.1 1127,870.2 1128,870" stroke-width="5.6" fill="none"/>
<path d="M866,917.5 L1000,911.5 1088,908" stroke-width="10" fill="none"/>
<path d="M880,917 L1086,908" stroke="#fff" stroke-width="1" stroke-dasharray="12 10"/>
<path d="M937,947 L1000,943.3 1188.8,939.8" stroke-width="5.6" fill="none"/>
<path d="M866,916 A92.5,92.5 0 1 0 934.4,1021" stroke-width="5.6" fill="none"/>
<path d="M934.4,1021 L934.4,952.3 937,947" stroke-width="5.6" fill="none"/>
<path d="M868,919 C863.3,919.5 849.3,919.5 840,922 C830.7,924.5 820,928.5 812,934 C804,939.5 797.2,945.7 792,955 C786.8,964.3 781.7,978.5 781,990 C780.3,1001.5 784.3,1014.7 788,1024 C791.7,1033.3 792.3,1034 803,1046 C813.7,1058 843.8,1087.7 852,1096" stroke-width="5.6" fill="none"/>
<path d="M935,952 C929.2,952.5 914.2,953.8 900,955 C885.8,956.2 861.3,957.2 850,959 C838.7,960.8 837.2,962.2 832,966 C826.8,969.8 821.8,976.3 819,982 C816.2,987.7 814.7,994 815,1000 C815.3,1006 817.5,1012.3 821,1018 C824.5,1023.7 824.5,1023.2 836,1034 C847.5,1044.8 881,1074.4 890,1082.5" stroke-width="5.6" fill="none"/>
<path d="M1082.4,912.2 L1087,900.8 1092.8,899 1113.7,899 1125,912.2 1125,937" stroke-width="5.6" fill="none"/>
<path d="M1070,916 L1082.4,914 1125,912.2" stroke-width="5.6" fill="none"/>
<rect x="1088" y="915" width="11.5" height="24" fill="#000" stroke="none"/>
<path d="M1128,873.3 L1129,937" stroke-width="5.6" fill="none"/>
<path d="M1164,895 L1165,937" stroke-width="5.6" fill="none"/>
<path d="M1185,866.6 L1187,937" stroke-width="5.6" fill="none"/>
<path d="M1131.8,897 L1161,898" stroke-width="5.6" fill="none"/>
<path d="M1190,884.7 L1229.7,881.8 1232.5,938 1190.7,939.8Z" stroke-width="5.6" fill="none"/>
<path d="M1190,882.8 L1222,878" stroke-width="5.6" fill="none"/>
<ellipse cx="1152.7" cy="882.7" rx="20" ry="14" stroke-width="5.5" fill="#fff"/>
<ellipse cx="1144" cy="887.5" rx="7" ry="7" stroke-width="2.5" fill="none"/>
<path d="M1147.4,772 C1145.8,774 1138.8,776.1 1138,784.2 C1137.2,792.3 1141.9,806.5 1142.5,820.5 C1143.1,834.5 1138.5,860.1 1141.5,868 C1144.5,875.9 1157.3,877.8 1160.5,868 C1163.7,858.2 1161.7,824.8 1160.5,809.5 C1159.3,794.2 1155.7,782.6 1153.5,776.4 C1151.3,770.1 1148.4,772.7 1147.4,772" stroke-width="3" fill="#000"/>
<path d="M1146,790 L1149,860" stroke="#fff" stroke-width="1" stroke-dasharray="10 6"/>
<path d="M485,1090.5 L535,1090.5 537.5,1145.5 490,1143Z" stroke-width="5.6" fill="none"/>
<path d="M1199.7,1042.6 L1249,1042.6 1247.3,1093.6 1199.7,1098.5Z" stroke-width="5.6" fill="none"/>
<path d="M558,970.5 L642,968 A44,44 0 0 1 650,1055.5 L563,1060.5 A44,45 0 0 1 558,970.5Z" stroke-width="5.6" fill="none"/>
<path d="M522.5,1004 L652.5,1008" stroke-width="4.8" fill="none"/>
<path d="M523.8,1030.5 L652.5,1024" stroke-width="4.8" fill="none"/>
<path d="M547,978 L547,1057" stroke-width="4" fill="none"/>
<path d="M556,976 L557,1058" stroke-width="4" fill="none"/>
<path d="M649,1003 L655,1003 656,1027 650,1027Z" stroke-width="4" fill="none"/>
<path d="M656,1008 L678,1008 678,1020 656,1020Z" stroke-width="2" fill="#000"/>
</svg>
</body></html>
